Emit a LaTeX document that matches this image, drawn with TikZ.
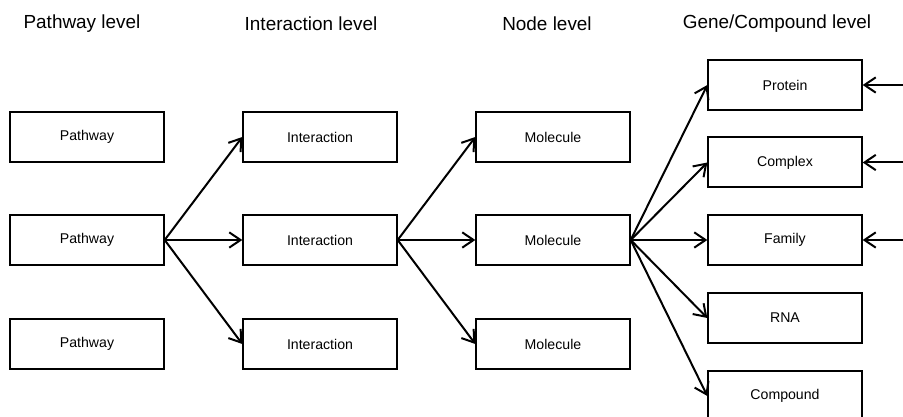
\documentclass[tikz,border=0pt]{standalone}
\usepackage{fontspec}
\setmainfont{Liberation Sans}
\usetikzlibrary{arrows.meta}

\tikzset{
    box/.style={draw,line width=1.5pt,minimum width=115pt,minimum height=37.5pt,inner sep=0pt,font=\fontsize{10.6}{12}\selectfont},
    level/.style={font=\fontsize{14.2}{16}\selectfont},
    link/.style={line width=1.5pt,-{Straight Barb[length=8.5pt,width=11.5pt,line width=1.5pt]}}
}

\begin{document}
\begin{tikzpicture}[x=0.75pt,y=-0.75pt]
                    \useasboundingbox (0,0) rectangle (903,417);
                    % column titles
                    \node[level] (tpath) at (82,24) {Pathway level};
                    \node[level] (tinter) at (311,24) {Interaction level};
                    \node[level] (tnode) at (547,24) {Node level};
                    \node[level] (tgene) at (777,24) {Gene/Compound level};
                    % pathways
                    \node[box] (path1) at (87,137) {Pathway};
                    \node[box] (path2) at (87,240) {Pathway};
                    \node[box] (path3) at (87,344) {Pathway};
                    % interactions
                    \node[box] (inter1) at (320,137) {Interaction};
                    \node[box] (inter2) at (320,240) {Interaction};
                    \node[box] (inter3) at (320,344) {Interaction};
                    % molecules
                    \node[box] (mol1) at (553,137) {Molecule};
                    \node[box] (mol2) at (553,240) {Molecule};
                    \node[box] (mol3) at (553,344) {Molecule};
                    % genes and compounds
                    \node[box] (prot) at (785,85) {Protein};
                    \node[box] (cplx) at (785,162.5) {Complex};
                    \node[box] (fam) at (785,240) {Family};
                    \node[box] (rna) at (785,318) {RNA};
                    \node[box] (comp) at (785,396) {Compound};
                    \draw[link] (path2.east) -- (inter1.west);
                    \draw[link] (path2.east) -- (inter2.west);
                    \draw[link] (path2.east) -- (inter3.west);
                    \draw[link] (inter2.east) -- (mol1.west);
                    \draw[link] (inter2.east) -- (mol2.west);
                    \draw[link] (inter2.east) -- (mol3.west);
                    \draw[link] (mol2.east) -- (prot.west);
                    \draw[link] (mol2.east) -- (cplx.west);
                    \draw[link] (mol2.east) -- (fam.west);
                    \draw[link] (mol2.east) -- (rna.west);
                    \draw[link] (mol2.east) -- (comp.west);
                    % incoming from the right
                    \coordinate (in1) at (903,85);
                    \coordinate (in2) at (903,162.5);
                    \coordinate (in3) at (903,240);
                    \draw[link] (in1) -- (prot.east);
                    \draw[link] (in2) -- (cplx.east);
                    \draw[link] (in3) -- (fam.east);
                \end{tikzpicture}
\end{document}
